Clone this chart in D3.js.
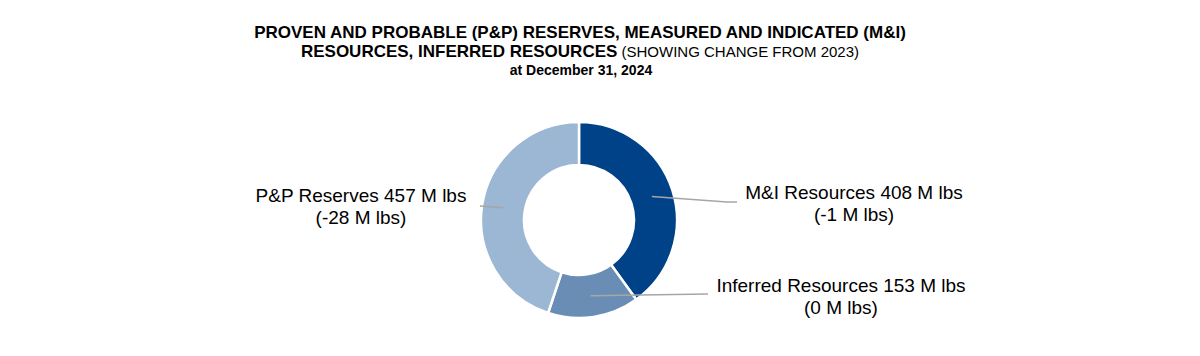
<!DOCTYPE html>
<html><head><meta charset="utf-8">
<script src="https://cdn.jsdelivr.net/npm/d3@7/dist/d3.min.js"></script>
<style>
html,body{margin:0;padding:0;background:#fff;}
svg{display:block;}
</style></head>
<body>
<svg id="chart" width="1200" height="356"></svg>
<script>
const categories = ["M&I Resources", "Inferred Resources", "P&P Reserves"];
const values = [408, 153, 457];
const changes = [-1, 0, -28];
const colors = ["#004287", "#6a8db6", "#9bb7d3"];
const titleLine1 = "PROVEN AND PROBABLE (P&P) RESERVES, MEASURED AND INDICATED (M&I)";
const titleLine2Bold = "RESOURCES, INFERRED RESOURCES";
const titleLine2Normal = " (SHOWING CHANGE FROM 2023)";
const titleLine3 = "at December 31, 2024";

const svg = d3.select("#chart");
const cx = 579, cy = 220, rOuter = 98, rInner = 55;
const titleFont = "'Liberation Sans', Arial, sans-serif";

// Title
const t = svg.append("g").attr("font-family", titleFont).attr("fill", "#000").attr("text-anchor", "middle");
t.append("text").attr("x", 580).attr("y", 38).attr("font-size", 17).attr("font-weight", "bold").text(titleLine1);
const t2 = t.append("text").attr("x", 580).attr("y", 57).attr("font-size", 17);
t2.append("tspan").attr("font-weight", "bold").text(titleLine2Bold);
t2.append("tspan").attr("font-size", 15).text(titleLine2Normal);
t.append("text").attr("x", 581).attr("y", 75).attr("font-size", 14).attr("font-weight", "bold").text(titleLine3);

// Donut
const pie = d3.pie().sort(null).value(d => d)(values);
const arc = d3.arc().innerRadius(rInner).outerRadius(rOuter);
const mid = d3.arc().innerRadius((rInner + rOuter) / 2).outerRadius((rInner + rOuter) / 2);
const g = svg.append("g").attr("transform", `translate(${cx},${cy})`);
g.selectAll("path.slice").data(pie).join("path")
  .attr("class", "slice")
  .attr("d", arc)
  .attr("fill", (d, i) => colors[i])
  .attr("stroke", "#fff").attr("stroke-width", 2.5).attr("stroke-linejoin", "round");

// Leader lines & labels (layout)
const labelLayout = [
  { bend: [727, 202], end: [737, 202], tx: 854, ty: 199 },
  { bend: null, end: [708, 294], tx: 841, ty: 292 },
  { bend: null, end: [480, 206], tx: 361, ty: 202 }
];
const lineGen = d3.line();
pie.forEach((d, i) => {
  const c = mid.centroid(d);
  const pts = [[cx + c[0], cy + c[1]]];
  const L = labelLayout[i];
  if (L.bend) pts.push(L.bend);
  pts.push(L.end);
  svg.append("path").attr("d", lineGen(pts)).attr("fill", "none")
    .attr("stroke", "#a6a6a6").attr("stroke-width", 1.5);
  const txt = svg.append("text").attr("font-family", "'Liberation Sans', Arial, sans-serif")
    .attr("font-size", 19).attr("fill", "#000").attr("text-anchor", "middle");
  txt.append("tspan").attr("x", L.tx).attr("y", L.ty).text(`${categories[i]} ${values[i]} M lbs`);
  txt.append("tspan").attr("x", L.tx).attr("y", L.ty + 21.5).text(`(${changes[i]} M lbs)`);
});
</script>
</body></html>
